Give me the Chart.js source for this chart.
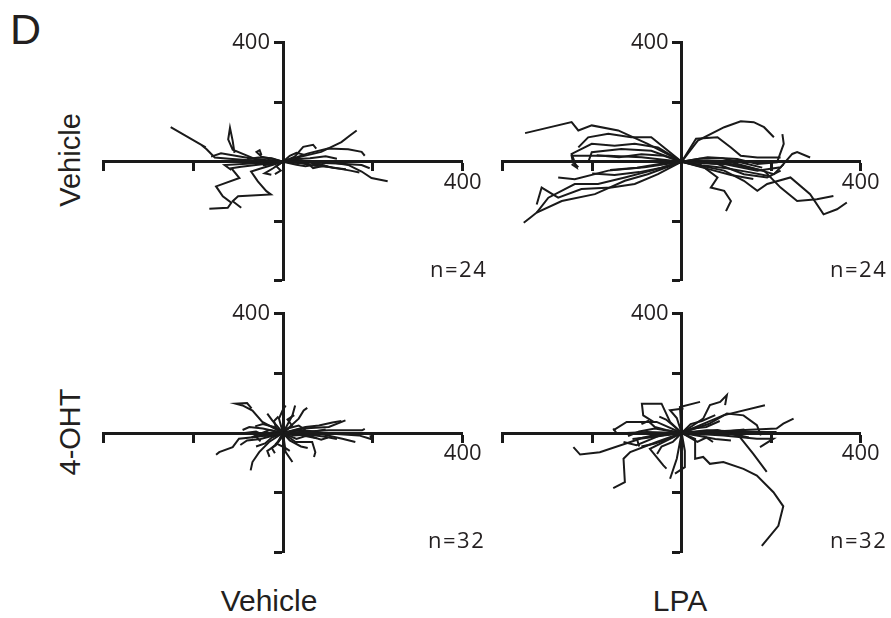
<!DOCTYPE html>
<html>
<head>
<meta charset="utf-8">
<script src="https://cdn.jsdelivr.net/npm/chart.js@4.4.0/dist/chart.umd.min.js"></script>
<style>
  html, body { margin: 0; padding: 0; background: #fff; }
  body { width: 891px; height: 618px; position: relative; overflow: hidden;
         font-family: "Liberation Sans", Arial, sans-serif; color: #231f20; }
  canvas { position: absolute; }
  .lbl { position: absolute; white-space: nowrap; line-height: 1; }
  .n { font-family: "Open Sans", sans-serif; font-size: 22px; letter-spacing: 1.5px; }
  .row { font-size: 29px; transform: translate(-50%, -50%) rotate(-90deg); }
  .col { font-size: 30px; transform: translateX(-50%); }
</style>
</head>
<body>
<div class="lbl" style="left:10px; top:8px; font-size:43px;">D</div>
<div class="lbl row" style="left:70px; top:160px;">Vehicle</div>
<div class="lbl row" style="left:70px; top:432px;">4-OHT</div>
<div class="lbl col" style="left:269px; top:586px;">Vehicle</div>
<div class="lbl col" style="left:680px; top:586px;">LPA</div>

<script>
// Axis range and tick values (µm)
const axisMin = -400;
const axisMax = 400;
const tickStep = 200;
const labelledTick = 400;

// Cell tracks, each a list of [x, y] points starting at the origin
const vehicleVehicle = [
    [[0,0],[-60,3],[-120,10],[-152,14],[-170,42],[-178,52],[-172,48],[-250,116]],
    [[0,0],[-48,-22],[-71,-33],[-56,-66],[-37,-99],[-27,-110],[-100,-116],[-112,-133],[-93,-155]],
    [[0,0],[-93,-17],[-115,-22],[-97,-55],[-149,-83],[-134,-116],[-115,-138],[-123,-155],[-164,-158]],
    [[0,0],[-60,8],[-112,40],[-122,75],[-118,114],[-112,70],[-108,30]],
    [[0,0],[-30,12],[-48,17],[-59,33],[-52,39],[-48,22]],
    [[0,0],[41,17],[85,33],[130,66],[149,88],[164,105]],
    [[0,0],[56,28],[100,44],[145,42],[175,33],[182,20]],
    [[0,0],[100,0],[145,-11],[175,-33],[197,-55],[233,-66]],
    [[0,0],[26,17],[45,50],[67,57],[74,44]],
    [[0,0],[56,-6],[67,-22],[93,-13],[63,0]],
    [[0,0],[60,-3],[120,-6],[175,-11],[193,-22]],
    [[0,0],[-22,-22],[-41,-39],[-26,-44]],
    [[0,0],[-71,-6],[-130,-11],[-115,-28]],
    [[0,0],[-48,6],[-93,17],[-138,28],[-160,17]],
    [[0,0],[-30,5],[-20,-8],[-45,-12]],
    [[0,0],[20,10],[35,-5],[60,2]],
    [[0,0],[-15,-15],[-5,-30],[-18,-42]],
    [[0,0],[30,-10],[50,-15],[80,-8]],
    [[0,0],[-40,-5],[-70,3],[-95,-2]],
    [[0,0],[40,5],[80,-10],[110,-20],[140,-25]],
    [[0,0],[25,8],[60,12],[95,18],[120,10]],
    [[0,0],[-25,12],[-55,14],[-80,8]],
    [[0,0],[35,-4],[70,-14],[105,-18],[150,-30],[170,-36]],
    [[0,0],[15,20],[30,30],[50,22]]
];

const vehicleLpa = [
    [[0,0],[-76,60],[-142,105],[-201,122],[-231,105],[-246,133],[-350,96]],
    [[0,0],[-68,82],[-113,82],[-164,94],[-209,82],[-231,48]],
    [[0,0],[-53,48],[-105,60],[-150,54],[-201,60],[-246,26],[-235,-19],[-246,-8]],
    [[0,0],[-68,-30],[-127,-53],[-187,-75],[-239,-75],[-298,-121],[-324,-171]],
    [[0,0],[-53,-42],[-105,-75],[-157,-87],[-224,-92],[-276,-121],[-313,-87],[-324,-144]],
    [[0,0],[-76,-42],[-127,-64],[-194,-109],[-268,-132],[-324,-171],[-340,-190],[-353,-205]],
    [[0,0],[-83,-19],[-164,-30],[-239,-59],[-276,-53]],
    [[0,0],[-90,15],[-164,20],[-246,20],[-243,-2],[-231,-19]],
    [[0,0],[-68,37],[-135,43],[-201,32],[-209,-2]],
    [[0,0],[36,71],[95,116],[132,136],[161,133],[184,116],[206,82]],
    [[0,0],[32,77],[80,82],[110,48],[132,20],[169,14],[221,14]],
    [[0,0],[58,15],[124,9],[169,-8],[213,-2],[228,60],[225,93]],
    [[0,0],[95,-8],[169,-30],[221,-19],[247,26],[258,32],[287,14]],
    [[0,0],[50,-19],[80,-53],[65,-87],[95,-98],[110,-132],[99,-166]],
    [[0,0],[95,-30],[139,-64],[169,-98],[191,-75],[243,-53],[287,-109],[317,-177],[347,-160],[369,-137]],
    [[0,0],[110,-8],[184,-30],[221,-87],[258,-132],[302,-126],[339,-115]],
    [[0,0],[80,-8],[139,-42],[191,-53],[221,-30]],
    [[0,0],[58,3],[110,-2],[154,-19],[206,-42],[228,-8]],
    [[0,0],[-45,-20],[-95,-35],[-150,-45],[-200,-40]],
    [[0,0],[-40,20],[-90,25],[-140,15],[-190,22]],
    [[0,0],[45,-12],[100,-22],[150,-35],[200,-50]],
    [[0,0],[40,10],[90,12],[140,-5],[180,-20]],
    [[0,0],[-50,-8],[-100,-20],[-160,-28]],
    [[0,0],[60,-25],[110,-45],[160,-58]]
];

const ohtVehicle = [
    [[0,0],[-46,37],[-68,75],[-90,92],[-105,98],[-80,100],[-70,82]],
    [[0,0],[-61,-13],[-98,-19],[-112,-47],[-142,-64],[-149,-73]],
    [[0,0],[-31,-30],[-53,-64],[-68,-97],[-72,-125]],
    [[0,0],[-16,-41],[-35,-60],[-30,-80]],
    [[0,0],[6,-64],[21,-97]],
    [[0,0],[28,-30],[65,-30],[72,-64],[69,-80]],
    [[0,0],[43,15],[102,20],[139,42]],
    [[0,0],[65,3],[132,-19],[161,-30]],
    [[0,0],[102,-2],[169,-8],[198,-21],[194,-8]],
    [[0,0],[102,9],[176,9],[182,14]],
    [[0,0],[-9,48],[-1,75],[6,92]],
    [[0,0],[21,59],[27,92]],
    [[0,0],[35,48],[46,75],[54,84]],
    [[0,0],[-24,42],[-35,65]],
    [[0,0],[-40,-10],[-60,5],[-85,0]],
    [[0,0],[30,-20],[50,-10],[75,-18]],
    [[0,0],[-20,20],[-45,30],[-62,22]],
    [[0,0],[-10,-30],[-25,-50],[-18,-68]],
    [[0,0],[40,10],[70,5],[95,12]],
    [[0,0],[-50,-20],[-80,-25],[-95,-40]],
    [[0,0],[15,-25],[40,-45],[55,-50]],
    [[0,0],[-30,10],[-55,-5],[-70,-15]],
    [[0,0],[20,25],[10,45],[25,60]],
    [[0,0],[-15,15],[-20,40],[-10,55]],
    [[0,0],[50,20],[80,25],[110,35],[130,40]],
    [[0,0],[-35,-5],[-60,-12],[-50,-28]],
    [[0,0],[25,-8],[55,-5],[90,-12],[120,-20]],
    [[0,0],[-5,-20],[-15,-35],[5,-50],[15,-60]],
    [[0,0],[-45,15],[-75,20],[-90,10]],
    [[0,0],[10,15],[35,25],[50,10]],
    [[0,0],[-25,-15],[-40,-35],[-60,-45]],
    [[0,0],[60,-10],[85,-22],[100,-15]]
];

const ohtLpa = [
    [[0,0],[30,-20],[30,-86],[48,-80],[63,-103],[93,-97],[138,-120],[168,-142],[205,-198],[227,-245],[216,-310],[179,-377]],
    [[0,0],[70,5],[127,-8],[160,-70],[190,-130]],
    [[0,0],[60,30],[101,65],[138,59],[168,26],[177,-8]],
    [[0,0],[-11,-86],[-26,-153]],
    [[0,0],[7,-60],[7,-114],[-15,-136]],
    [[0,0],[-56,-30],[-115,-64],[-130,-86],[-127,-164],[-153,-184]],
    [[0,0],[-93,-19],[-183,-64],[-227,-72],[-242,-47]],
    [[0,0],[-71,-53],[-41,-108],[-34,-119]],
    [[0,0],[-26,37],[-45,98],[-89,98],[-86,59],[-63,37]],
    [[0,0],[-56,37],[-123,37],[-153,9]],
    [[0,0],[-11,50],[-26,76],[4,82]],
    [[0,0],[-4,87],[41,104]],
    [[0,0],[48,48],[63,93],[86,104],[101,127],[97,93]],
    [[0,0],[93,59],[186,93]],
    [[0,0],[130,9],[212,15],[227,31],[250,48]],
    [[0,0],[93,-8],[168,-19],[205,-19],[175,-47]],
    [[0,0],[56,9],[153,3],[212,3]],
    [[0,0],[-78,3],[-145,-2],[-153,15]],
    [[0,0],[-48,-8],[-101,-41],[-130,-30]],
    [[0,0],[-35,10],[-60,20],[-75,40],[-90,30]],
    [[0,0],[40,-10],[75,-20],[110,-25]],
    [[0,0],[-30,-20],[-60,-35],[-90,-45]],
    [[0,0],[20,30],[45,40],[75,60]],
    [[0,0],[-20,-30],[-45,-45],[-55,-70]],
    [[0,0],[-60,15],[-95,5],[-120,-10]],
    [[0,0],[50,-5],[100,5],[140,12]],
    [[0,0],[-40,-5],[-80,-15],[-110,-20]],
    [[0,0],[25,15],[55,20],[85,40]],
    [[0,0],[-15,20],[-35,45],[-50,55]],
    [[0,0],[35,-30],[55,-15],[70,-30]],
    [[0,0],[-70,-10],[-100,-20],[-95,-45]],
    [[0,0],[80,10],[120,-5],[150,-15]]
];

const cellCounts = ['n=24', 'n=24', 'n=32', 'n=32'];

// Panel placement on the page (chart-area edges in px)
const panels = [
    { tracks: vehicleVehicle, n: cellCounts[0], area: { left: 103.3, top: 42.7, right: 462.7, bottom: 280.7 }, nAt: [430, 257] },
    { tracks: vehicleLpa,     n: cellCounts[1], area: { left: 502.7, top: 42.7, right: 860.7, bottom: 280.7 }, nAt: [830, 257] },
    { tracks: ohtVehicle,     n: cellCounts[2], area: { left: 103.3, top: 313.3, right: 462.7, bottom: 552.7 }, nAt: [428, 528] },
    { tracks: ohtLpa,         n: cellCounts[3], area: { left: 502.7, top: 313.3, right: 860.7, bottom: 552.7 }, nAt: [830, 528] }
];

const ink = '#1a1a1a';
const textInk = '#231f20';
const tickFont = { family: '"Open Sans", sans-serif', size: 22 };

// y axis sits in the middle, so its top label is drawn beside the tick here
const yTopLabel = {
    id: 'yTopLabel',
    afterDraw(chart) {
        const { ctx, scales: { x, y } } = chart;
        ctx.save();
        ctx.font = `${tickFont.size}px ${tickFont.family}`;
        ctx.fillStyle = textInk;
        ctx.textAlign = 'right';
        ctx.textBaseline = 'middle';
        ctx.fillText(String(labelledTick), x.getPixelForValue(0) - 13, y.getPixelForValue(labelledTick));
        ctx.restore();
    }
};

function axisOptions(cross, showLabel) {
    return {
        type: 'linear',
        min: axisMin,
        max: axisMax,
        position: cross,
        border: { display: true, color: ink, width: 3 },
        grid: { drawOnChartArea: false, drawTicks: true, tickLength: 8, tickColor: ink, tickWidth: 3 },
        ticks: {
            stepSize: tickStep,
            autoSkip: false,
            maxRotation: 0,
            padding: 0,
            color: textInk,
            font: tickFont,
            callback: v => (showLabel && v === labelledTick ? String(labelledTick) : '')
        }
    };
}

panels.forEach(p => {
    const canvas = document.createElement('canvas');
    const cl = Math.floor(p.area.left) - 60;
    const ct = Math.floor(p.area.top) - 30;
    const cw = Math.ceil(p.area.right) - cl + 40;
    const ch = Math.ceil(p.area.bottom) - ct + 30;
    canvas.width = cw;
    canvas.height = ch;
    canvas.style.left = cl + 'px';
    canvas.style.top = ct + 'px';
    document.body.appendChild(canvas);

    new Chart(canvas.getContext('2d'), {
        type: 'scatter',
        data: {
            datasets: p.tracks.map(t => ({
                data: t.map(pt => ({ x: pt[0], y: pt[1] })),
                showLine: true,
                borderColor: ink,
                borderWidth: 2,
                borderJoinStyle: 'miter',
                pointRadius: 0,
                pointHoverRadius: 0,
                tension: 0
            }))
        },
        options: {
            responsive: false,
            animation: false,
            layout: {
                padding: {
                    left: p.area.left - cl,
                    top: p.area.top - ct,
                    right: cl + cw - p.area.right,
                    bottom: ct + ch - p.area.bottom
                }
            },
            plugins: { legend: { display: false }, tooltip: { enabled: false } },
            scales: {
                x: axisOptions({ y: 0 }, true),
                y: axisOptions({ x: 0 }, false)
            }
        },
        plugins: [yTopLabel]
    });

    const label = document.createElement('div');
    label.className = 'lbl n';
    label.textContent = p.n;
    label.style.left = p.nAt[0] + 'px';
    label.style.top = p.nAt[1] + 'px';
    document.body.appendChild(label);
});
</script>
</body>
</html>
